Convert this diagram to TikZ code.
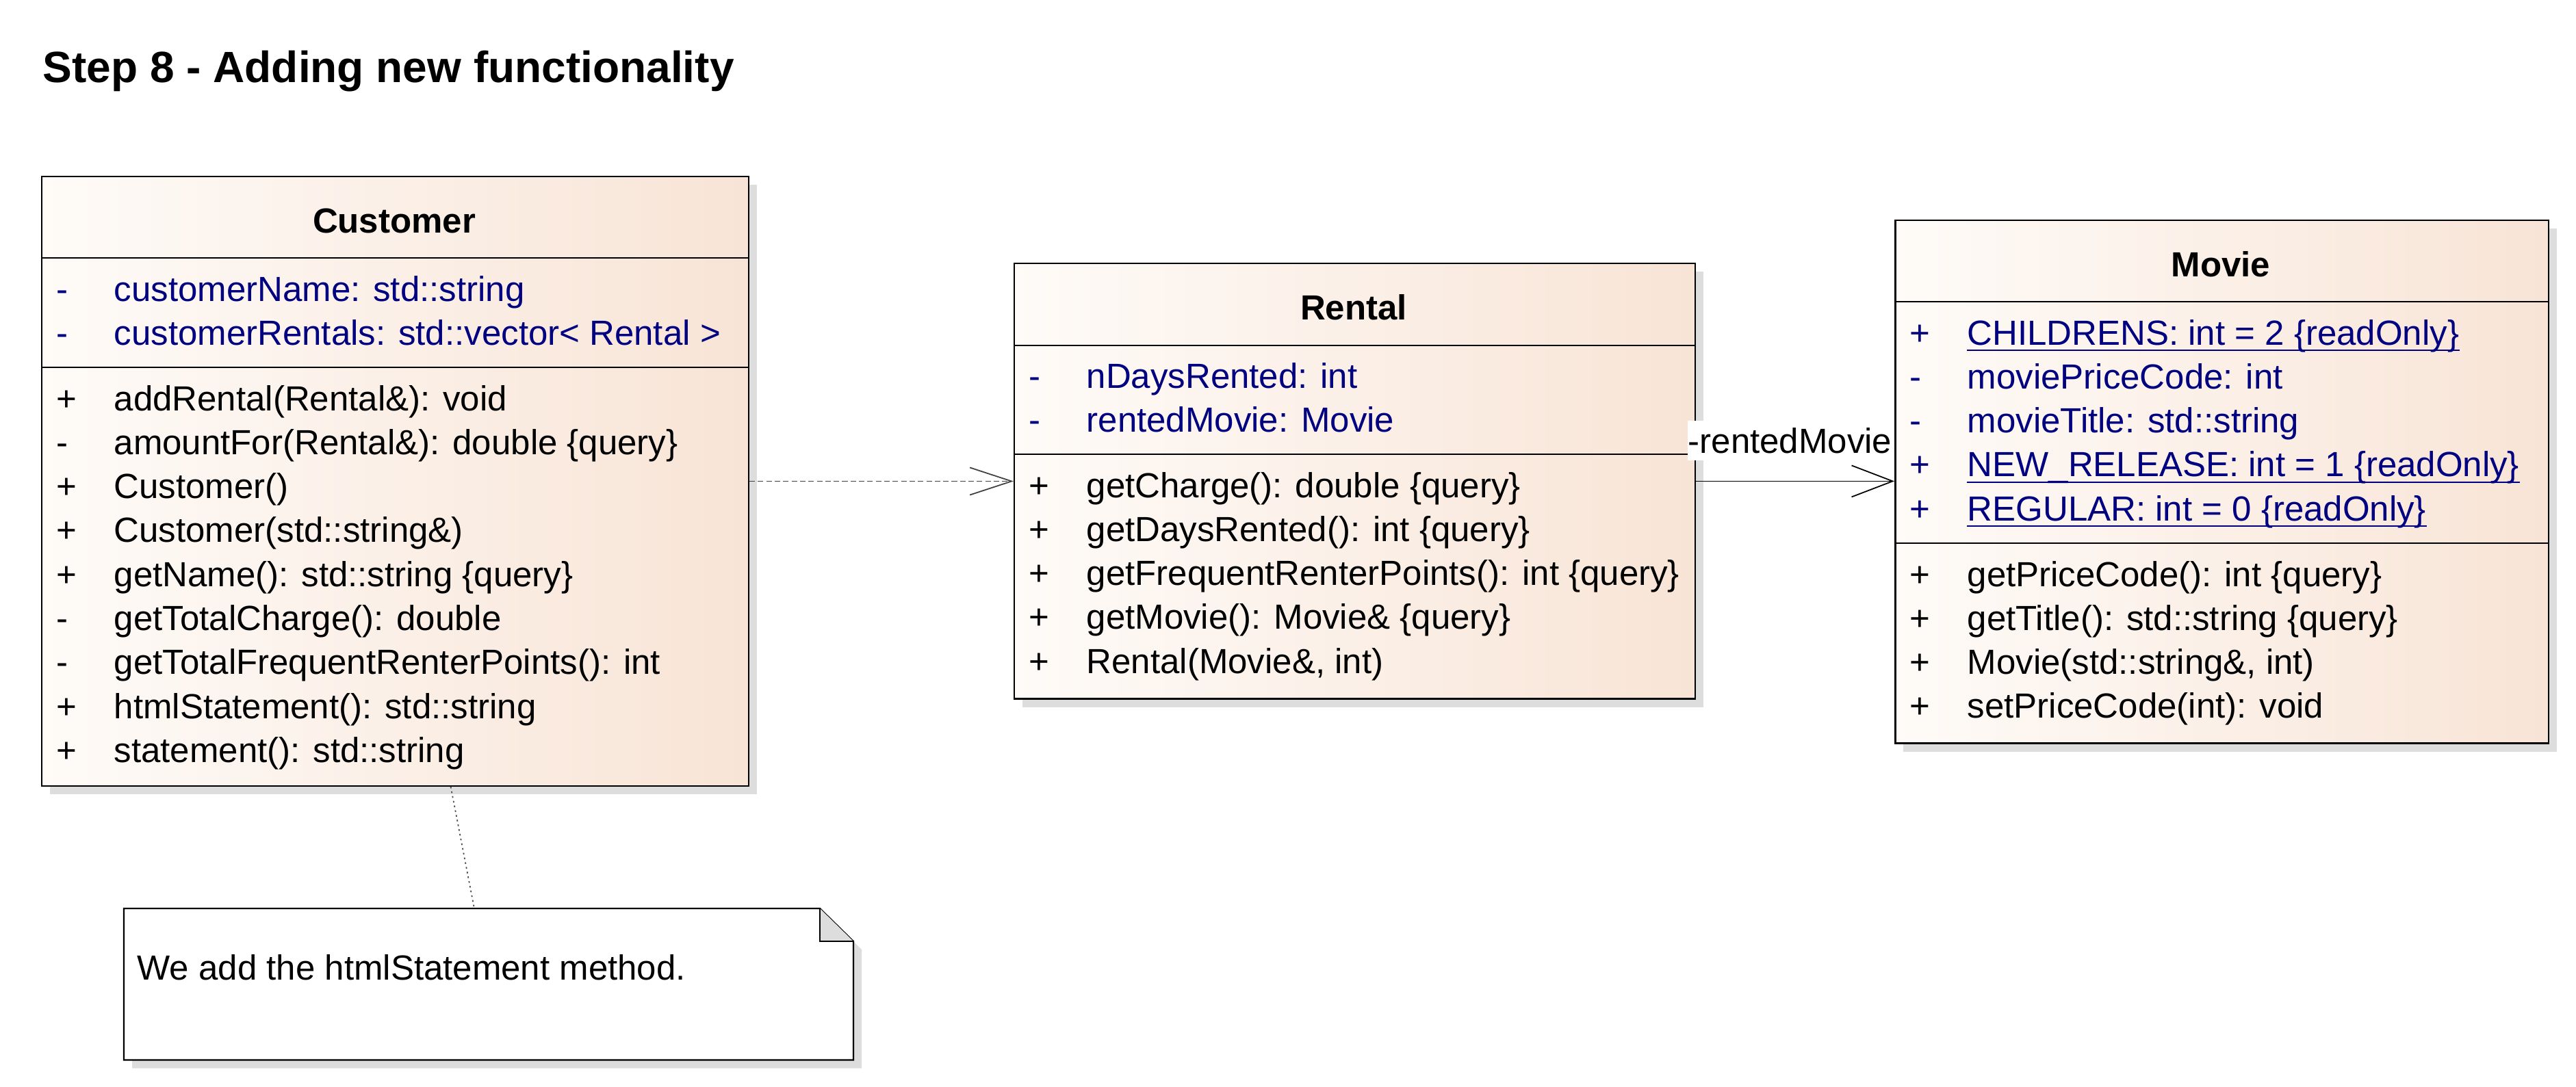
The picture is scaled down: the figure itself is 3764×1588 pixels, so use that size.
\documentclass[tikz,border=0pt]{standalone}
\usepackage{fontspec}
\setmainfont{Liberation Sans}
\usetikzlibrary{arrows.meta,positioning,shadows,calc}
\definecolor{classleft}{HTML}{FEFBF8}
\definecolor{classright}{HTML}{F8E4D6}
\definecolor{attrblue}{HTML}{000080}
\definecolor{shadowgray}{HTML}{DDDDDD}
\newcommand{\umlfont}{\fontsize{14.5pt}{17pt}\selectfont}

\begin{document}
\begin{tikzpicture}[x=0.01cm, y=-0.01cm,
  classbox/.style={draw, line width=0.7pt, left color=classleft,
    right color=classright, anchor=north west, inner sep=0pt,
    drop shadow={shadow xshift=0.12cm, shadow yshift=-0.12cm,
      fill=shadowgray, opacity=1}},
  classname/.style={font=\umlfont\bfseries, anchor=base, inner sep=0pt},
  member/.style={font=\umlfont, anchor=base west, inner sep=0pt},
  attr/.style={member, text=attrblue},
  sepline/.style={line width=0.55pt},
  dep/.style={draw=black!75, line width=0.5pt, dash pattern=on 2.3pt off 1.2pt,
    -{Straight Barb[length=0.61cm, width=0.40cm]}},
  assoc/.style={line width=0.5pt, -{Straight Barb[length=0.60cm, width=0.46cm]}},
  notelink/.style={draw=black!70, line width=0.5pt, dash pattern=on 0.7pt off 1.3pt}]

  \useasboundingbox (0,0) rectangle (3764,1588);

  %% Diagram title
  \node[font=\fontsize{18.2pt}{22pt}\selectfont\bfseries, anchor=base west,
        inner sep=0pt] (title) at (62,121) {Step 8 - Adding new functionality};

  %% Class boxes
  \node[classbox, minimum width=10.32cm, minimum height=8.90cm] (customer) at (60,257) {};
  \node[classbox, minimum width=9.94cm, minimum height=6.36cm] (rental) at (1481,384) {};
  \node[classbox, minimum width=9.54cm, minimum height=7.64cm] (movie) at (2768,321) {};

  %% Compartment separators
  \foreach \c/\a/\b in {customer/377/537, rental/505/664, movie/441/794} {
    \draw[sepline] (\c.west |- 0,\a) -- (\c.east |- 0,\a);
    \draw[sepline] (\c.west |- 0,\b) -- (\c.east |- 0,\b);
  }

  %% Class names
  \node[classname] (customername) at (576,340) {Customer};
  \node[classname] (rentalname) at (1978,467) {Rental};
  \node[classname] (moviename) at (3245,404) {Movie};

  %% Customer members
  \foreach \v/\t [count=\i] in {-/customerName: std::string,
      -/customerRentals: std::vector< Rental >} {
    \node[attr] (cv\i) at (82,{440+(\i-1)*64.3}) {\v};
    \node[attr] (ca\i) at (166,{440+(\i-1)*64.3}) {\t};
  }
  \foreach \v/\t [count=\i] in {+/addRental(Rental\&): void,
      -/amountFor(Rental\&): double \{query\}, +/Customer(),
      +/Customer(std::string\&), +/getName(): std::string \{query\},
      -/getTotalCharge(): double, -/getTotalFrequentRenterPoints(): int,
      +/htmlStatement(): std::string, +/statement(): std::string} {
    \node[member] (cw\i) at (82,{600+(\i-1)*64.3}) {\v};
    \node[member] (cm\i) at (166,{600+(\i-1)*64.3}) {\t};
  }

  %% Rental members
  \foreach \v/\t [count=\i] in {-/nDaysRented: int, -/rentedMovie: Movie} {
    \node[attr] (rv\i) at (1503,{567+(\i-1)*64.3}) {\v};
    \node[attr] (ra\i) at (1587,{567+(\i-1)*64.3}) {\t};
  }
  \foreach \v/\t [count=\i] in {+/getCharge(): double \{query\},
      +/getDaysRented(): int \{query\},
      +/getFrequentRenterPoints(): int \{query\},
      +/getMovie(): Movie\& \{query\}, {+/Rental(Movie\&, int)}} {
    \node[member] (rw\i) at (1503,{727+(\i-1)*64.3}) {\v};
    \node[member] (rm\i) at (1587,{727+(\i-1)*64.3}) {\t};
  }

  %% Movie members (static ones underlined)
  \foreach \v/\t/\u [count=\i] in {+/CHILDRENS: int = 2 \{readOnly\}/1,
      -/moviePriceCode: int/0, -/movieTitle: std::string/0,
      +/NEW\_RELEASE: int = 1 \{readOnly\}/1,
      +/REGULAR: int = 0 \{readOnly\}/1} {
    \node[attr] (mv\i) at (2790,{504+(\i-1)*64.3}) {\v};
    \node[attr] (ma\i) at (2874,{504+(\i-1)*64.3}) {\t};
    \ifnum\u=1
      \draw[attrblue, line width=0.5pt] ([yshift=-0.08cm]ma\i.base west)
        -- ([yshift=-0.08cm]ma\i.base east);
    \fi
  }
  \foreach \v/\t [count=\i] in {+/getPriceCode(): int \{query\},
      +/getTitle(): std::string \{query\}, {+/Movie(std::string\&, int)},
      +/setPriceCode(int): void} {
    \node[member] (mw\i) at (2790,{857+(\i-1)*64.3}) {\v};
    \node[member] (mm\i) at (2874,{857+(\i-1)*64.3}) {\t};
  }

  %% Connectors
  \draw[dep] (customer.east) -- (customer.east -| rental.west);
  \draw[assoc] (rental.east) -- (rental.east -| movie.west);
  \node[member, fill=white, inner xsep=0.01cm, inner ysep=0.1cm] (role)
    at (2465,662) {-rentedMovie};

  %% Note with folded corner
  \node[anchor=north west, minimum width=10.64cm, minimum height=2.20cm,
        inner sep=0pt] (note) at (181,1328) {};
  \fill[shadowgray] ($(note.north west)+(12,12)$) -- ($(note.north east)+(-37,12)$)
    -- ($(note.north east)+(12,60)$) -- ($(note.south east)+(12,12)$)
    -- ($(note.south west)+(12,12)$) -- cycle;
  \draw[line width=0.6pt, fill=white] (note.north west) -- ($(note.north east)+(-49,0)$)
    -- ($(note.north east)+(0,48)$) -- (note.south east) -- (note.south west) -- cycle;
  \draw[line width=0.6pt, fill=shadowgray] ($(note.north east)+(-49,0)$)
    -- ($(note.north east)+(-49,48)$) -- ($(note.north east)+(0,48)$);
  \node[member] (notetext) at (200,1432) {We add the htmlStatement method.};
  \draw[notelink] ([xshift=0.81cm]customer.south) -- ([xshift=-0.21cm]note.north);
\end{tikzpicture}
\end{document}
